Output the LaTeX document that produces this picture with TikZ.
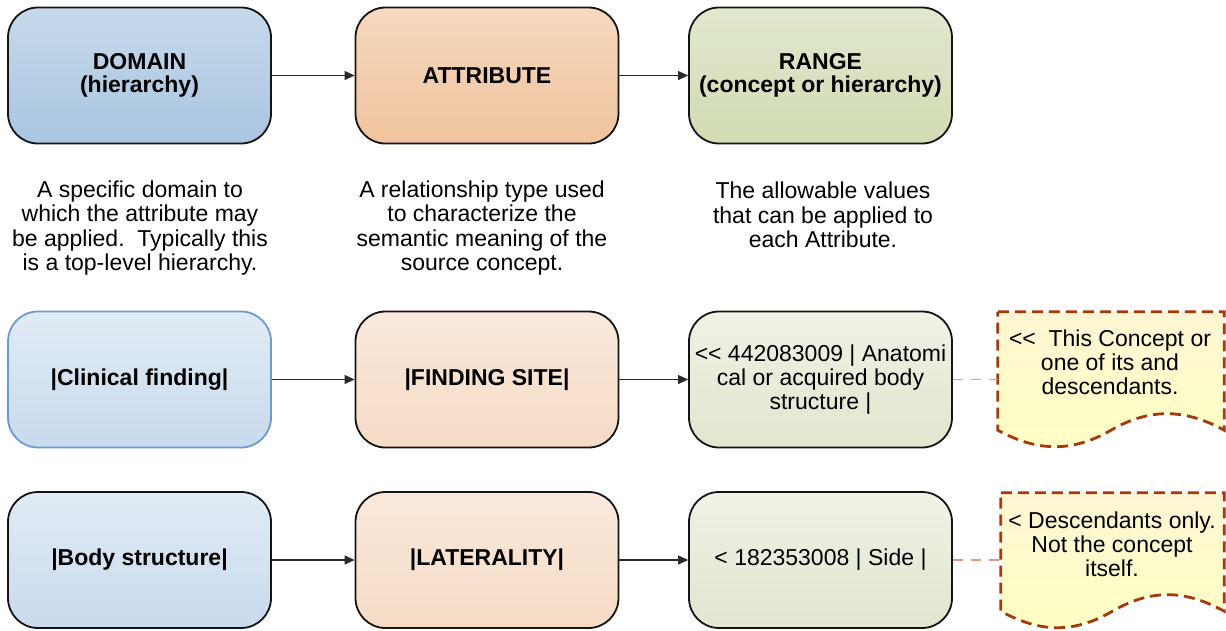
\documentclass[tikz,border=0pt]{standalone}
\usepackage{fontspec}
\setmainfont{Liberation Sans}
\usetikzlibrary{arrows.meta}
\definecolor{boxline}{HTML}{141414}
\definecolor{arrowc}{HTML}{2A2A2A}
\definecolor{linkc}{HTML}{DA9C8A}
\definecolor{notec}{HTML}{A33A0E}
\definecolor{domA}{HTML}{C6D9EB}\definecolor{domB}{HTML}{A9C5E0}
\definecolor{domC}{HTML}{E1EBF5}\definecolor{domD}{HTML}{C8DAEC}
\definecolor{attA}{HTML}{F6D9BF}\definecolor{attB}{HTML}{EFC39D}
\definecolor{attC}{HTML}{FAE9DC}\definecolor{attD}{HTML}{F5DBC5}
\definecolor{ranA}{HTML}{E1E8CE}\definecolor{ranB}{HTML}{D1DBB3}
\definecolor{ranC}{HTML}{EFF2E6}\definecolor{ranD}{HTML}{E0E6CE}
\definecolor{noteA}{HTML}{FDF6D4}\definecolor{noteB}{HTML}{FFFFC2}
\definecolor{cfline}{HTML}{6C9BD0}
\begin{document}
\begin{tikzpicture}[x=1pt,y=-1pt,
  box/.style={rounded corners=30pt, minimum width=263pt, minimum height=136pt,
    inner sep=0pt, draw=boxline, line width=1.8pt, align=center,
    font={\fontsize{23}{23}\selectfont\bfseries}},
  rbox/.style={box, font={\fontsize{23}{24}\selectfont}},
  desc/.style={align=center, inner sep=0pt, font={\fontsize{23}{24.5}\selectfont}},
  conn/.style={-{Triangle[length=10pt,width=9pt]}, line width=1.1pt, draw=arrowc},
  link/.style={dash pattern=on 10pt off 8pt, line width=1.8pt, draw=linkc},
  noteframe/.style={minimum width=226pt, minimum height=118pt, inner sep=0pt},
  noteshape/.style={dash pattern=on 11pt off 6pt, line width=2.8pt, draw=notec,
    top color=noteA, bottom color=noteB},
  notetext/.style={align=center, inner sep=0pt, font={\fontsize{23}{24}\selectfont}}
]
\useasboundingbox (0,0) rectangle (1226,630);

% row 1
\node[box, top color=domA, bottom color=domB] (d1) at (139.5,75.5) {DOMAIN\\(hierarchy)};
\node[box, top color=attA, bottom color=attB] (a1) at (487,75.5) {ATTRIBUTE};
\node[box, top color=ranA, bottom color=ranB] (r1) at (820.5,75.5) {RANGE\\(concept or hierarchy)};
\draw[conn] (d1) -- (a1);
\draw[conn] (a1) -- (r1);

% descriptions
\node[desc] (t1) at (140,228) {A specific domain to\\which the attribute may\\be applied.\ \ Typically this\\is a top-level hierarchy.};
\node[desc] (t2) at (482,228) {A relationship type used\\to characterize the\\semantic meaning of the\\source concept.};
\node[desc] (t3) at (823,215) {The allowable values\\that can be applied to\\each Attribute.};

% row 2
\node[box, draw=cfline, top color=domC, bottom color=domD] (d2) at (139.5,379.5) {|Clinical finding|};
\node[box, top color=attC, bottom color=attD] (a2) at (487,379.5) {|FINDING SITE|};
\node[rbox, top color=ranC, bottom color=ranD] (r2) at (820.5,379.5) {<\kern0pt< 442083009 | Anatomi\\cal or acquired body\\structure |};
\draw[conn] (d2) -- (a2);
\draw[conn] (a2) -- (r2);

% row 3
\node[box, top color=domC, bottom color=domD] (d3) at (139.5,560) {|Body structure|};
\node[box, top color=attC, bottom color=attD] (a3) at (487,560) {|LATERALITY|};
\node[rbox, top color=ranC, bottom color=ranD] (r3) at (820.5,560) {< 182353008 | Side |};
\draw[conn] (d3) -- (a3);
\draw[conn] (a3) -- (r3);

% notes
\node[noteframe] (n1) at (1111,371) {};
\path[noteshape] (n1.north west) -- (n1.north east) -- (n1.south east)
  .. controls +(-40,-22) and +(38,-22) .. (n1.south)
  .. controls +(-38,22) and +(40,22) .. (n1.south west) -- cycle;
\node[notetext] (n1t) at (1110,362) {<\kern0pt<\ \ This Concept or\\one of its and\\descendants.};

\node[noteframe, minimum width=223pt] (n2) at (1112.5,552) {};
\path[noteshape] (n2.north west) -- (n2.north east) -- (n2.south east)
  .. controls +(-40,-22) and +(38,-22) .. (n2.south)
  .. controls +(-38,22) and +(40,22) .. (n2.south west) -- cycle;
\node[notetext] (n2t) at (1112,544) {< Descendants only.\\Not the concept\\itself.};

\draw[link] (r2.east) -- (r2.east -| n1.west);
\draw[link] (r3.east) -- (r3.east -| n2.west);
\end{tikzpicture}
\end{document}
